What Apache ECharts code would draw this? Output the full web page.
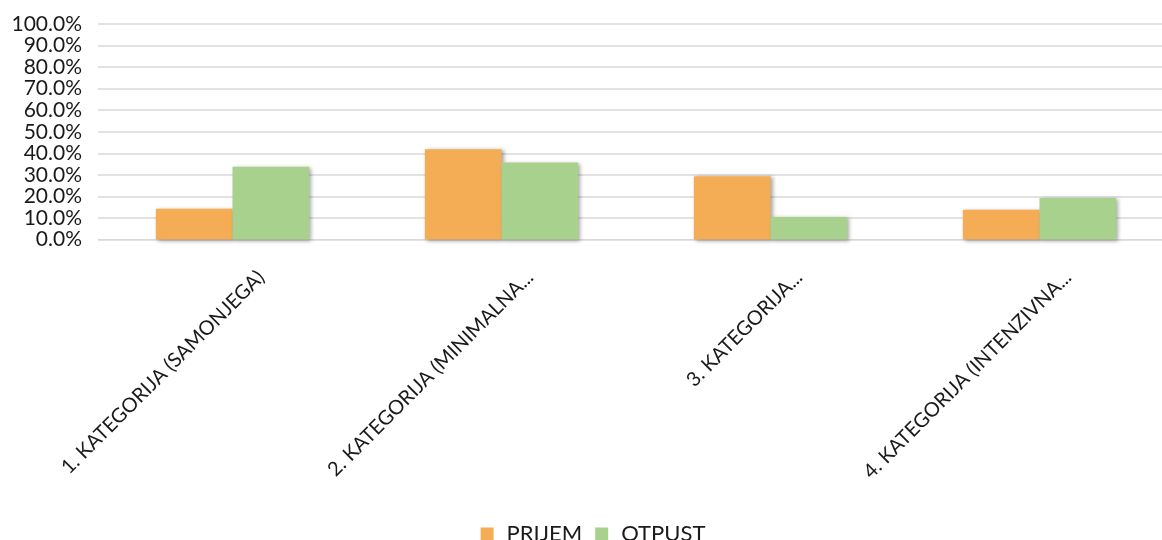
<!DOCTYPE html>
<html><head><meta charset="utf-8">
<script src="https://cdn.jsdelivr.net/npm/echarts@6/dist/echarts.min.js"></script>
<style>html,body{margin:0;padding:0;background:#fff;overflow:hidden;width:1162px;height:540px}#c{width:1186px;height:540px}</style>
</head><body><div id="c"></div>
<script>
const categories = ["1. KATEGORIJA (SAMONJEGA)", "2. KATEGORIJA (MINIMALNA...", "3. KATEGORIJA...", "4. KATEGORIJA (INTENZIVNA..."];
const prijem = [14.3, 41.9, 29.4, 13.8];
const otpust = [33.8, 35.7, 10.4, 19.3];
const yTicks = [0, 10, 20, 30, 40, 50, 60, 70, 80, 90, 100];

const FONT = 'Lato';
const chart = echarts.init(document.getElementById('c'));
const shadow = {shadowBlur: 4, shadowColor: 'rgba(0,0,0,0.35)', shadowOffsetX: 2, shadowOffsetY: 1};
chart.setOption({
  animation: false,
  grid: {left: 98, top: 24, right: 12, height: 215.5, containLabel: false, outerBoundsMode: 'none'},
  legend: {
    bottom: -10, left: 'center', itemWidth: 13, itemHeight: 13, itemGap: 13,
    icon: 'rect',
    textStyle: {fontFamily: FONT, fontSize: 22, color: '#1a1a1a', padding: [0, 0, 0, 8]},
    data: ['PRIJEM', 'OTPUST']
  },
  xAxis: {
    type: 'category', data: categories,
    axisLine: {show: true, lineStyle: {color: '#d9d9d9', width: 1}},
    axisTick: {show: false},
    axisLabel: {
      interval: 0, rotate: 45, margin: -4, hideOverlap: false,
      formatter: v => '{a|' + v + '}',
      rich: {a: {fontFamily: FONT, fontSize: 20, color: '#1a1a1a', lineHeight: 24, padding: [95, 7, 0, 0]}}
    }
  },
  yAxis: {
    type: 'value', min: yTicks[0], max: yTicks[yTicks.length - 1], interval: 10,
    axisLine: {show: false}, axisTick: {show: false},
    splitLine: {lineStyle: {color: '#d9d9d9', width: 1.5}},
    axisLabel: {margin: 16, fontFamily: FONT, fontSize: 21, color: '#1a1a1a',
      formatter: v => v.toFixed(1) + '%'}
  },
  series: [
    {name: 'PRIJEM', type: 'bar', data: prijem, barGap: '0%', barCategoryGap: '43%',
     itemStyle: Object.assign({color: '#F4AD55'}, shadow)},
    {name: 'OTPUST', type: 'bar', data: otpust,
     itemStyle: Object.assign({color: '#A9D18E'}, shadow)}
  ]
});
</script></body></html>
